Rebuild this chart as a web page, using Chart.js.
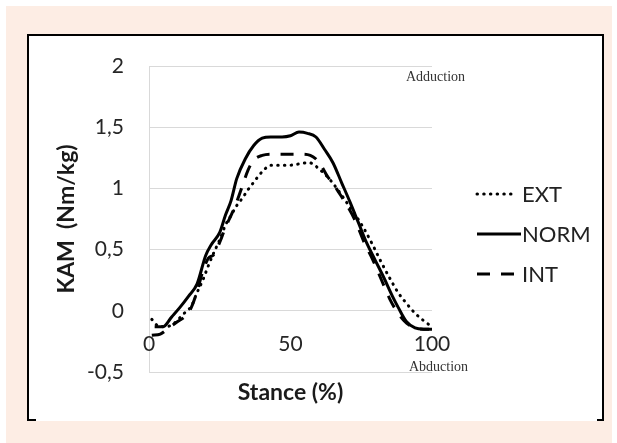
<!DOCTYPE html>
<html>
<head>
<meta charset="utf-8">
<script src="https://cdn.jsdelivr.net/npm/chart.js@4.4.1/dist/chart.umd.min.js"></script>
<style>
  html, body { margin: 0; padding: 0; background: #fff; }
  #page { position: relative; width: 617px; height: 443px; overflow: hidden; }
  #peach { position: absolute; left: 6px; top: 6px; width: 606px; height: 437px; background: #fdede4; }
  #frame { position: absolute; left: 27px; top: 34px; width: 573px; height: 385px; background: #fff;
           border-left: 2px solid #000; border-right: 2px solid #000; border-top: 2px solid #000; }
  .corner { position: absolute; top: 419px; height: 2px; background: #000; }
  #wrap { position: absolute; left: 0; top: 0; width: 617px; height: 443px; }
</style>
</head>
<body>
<div id="page">
  <div id="peach"></div>
  <div id="frame"></div>
  <div class="corner" style="left:27px;width:9px"></div>
  <div class="corner" style="left:597px;width:7px"></div>
  <div id="wrap"><canvas id="chart"></canvas></div>
</div>
<script>
// stance (%) and knee adduction moment (Nm/kg)
const extStance = [1, 3, 6, 9, 12, 15, 17, 19, 21, 23, 25, 27, 29, 31, 33, 35, 37, 39, 41, 43, 47, 50, 53, 56, 58, 60, 62, 64, 67, 70, 73, 76, 79, 82, 85, 88, 91, 94, 97, 100];
const extKam = [-0.07, -0.12, -0.13, -0.1, -0.03, 0.04, 0.15, 0.25, 0.37, 0.48, 0.58, 0.7, 0.78, 0.86, 0.92, 0.99, 1.05, 1.11, 1.16, 1.19, 1.19, 1.19, 1.2, 1.21, 1.2, 1.16, 1.12, 1.07, 0.98, 0.88, 0.78, 0.67, 0.54, 0.4, 0.27, 0.15, 0.06, -0.02, -0.08, -0.13];

const normStance = [2, 5, 8, 11, 14, 17, 20, 22, 25, 27, 29, 31, 34, 37, 40, 43, 47, 50, 53, 56, 59, 62, 65, 68, 71, 74, 77, 80, 83, 86, 88, 91, 94, 97, 100];
const normKam = [-0.13, -0.13, -0.05, 0.03, 0.12, 0.22, 0.45, 0.54, 0.64, 0.78, 0.9, 1.08, 1.24, 1.35, 1.41, 1.42, 1.42, 1.43, 1.46, 1.45, 1.42, 1.32, 1.21, 1.05, 0.89, 0.72, 0.55, 0.41, 0.27, 0.12, 0.03, -0.09, -0.14, -0.15, -0.15];

const intStance = [1, 4, 7, 10, 13, 15, 17, 19, 21, 23, 25, 27, 29, 31, 33, 35, 37, 40, 43, 47, 50, 54, 57, 59, 61, 63, 65, 67, 70, 73, 76, 79, 82, 85, 88, 91, 94, 97, 99];
const intKam = [-0.2, -0.19, -0.14, -0.09, -0.04, 0.03, 0.16, 0.32, 0.43, 0.46, 0.56, 0.68, 0.78, 0.89, 1.02, 1.15, 1.23, 1.27, 1.28, 1.28, 1.28, 1.28, 1.27, 1.24, 1.18, 1.1, 1.04, 0.97, 0.86, 0.73, 0.56, 0.42, 0.26, 0.1, -0.02, -0.1, -0.14, -0.15, -0.15];

const xTicks = [0, 50, 100];
const xTickLabels = ['0', '50', '100'];
const yTickLabels = ['-0,5', '0', '0,5', '1', '1,5', '2'];
const seriesNames = ['EXT', 'NORM', 'INT'];

const sans = 'Lato, "Open Sans", sans-serif';
const toPoints = (xs, ys) => xs.map((x, i) => ({ x: x, y: ys[i] }));

const dashes = [[0.5, 6.2], [], [13, 11]];

function lineSet(label, pts, dash) {
    return {
        label: label,
        data: pts,
        borderColor: '#000',
        borderWidth: 3,
        borderDash: dash,
        borderCapStyle: dash.length && dash[0] < 1 ? 'round' : 'butt',
        pointRadius: 0,
        fill: false,
        cubicInterpolationMode: 'monotone'
    };
}

// x tick labels sit on the zero line, plus the legend and the two notes
const extras = {
    id: 'extras',
    afterDraw(chart) {
        const ctx = chart.ctx;
        const xs = chart.scales.x;
        const ys = chart.scales.y;
        ctx.save();
        ctx.fillStyle = '#262626';
        ctx.font = '21px ' + sans;
        ctx.textAlign = 'center';
        ctx.textBaseline = 'middle';
        const y0 = ys.getPixelForValue(0) + 33;
        xTicks.forEach((v, i) => ctx.fillText(xTickLabels[i], xs.getPixelForValue(v), y0));

        // legend
        const rows = [194, 234, 274];
        chart.data.datasets.forEach((ds, i) => {
            ctx.beginPath();
            ctx.strokeStyle = '#000';
            ctx.lineWidth = 3;
            ctx.setLineDash(ds.borderDash);
            ctx.lineCap = ds.borderCapStyle;
            ctx.moveTo(477, rows[i]);
            ctx.lineTo(i === 1 ? 521 : 515, rows[i]);
            ctx.stroke();
            ctx.setLineDash([]);
            ctx.fillStyle = '#222';
            ctx.font = '22px ' + sans;
            ctx.textAlign = 'left';
            ctx.fillText(seriesNames[i], 522, rows[i] + 1);
        });

        ctx.fillStyle = '#333';
        ctx.font = '14px "Liberation Serif", "Times New Roman", serif';
        ctx.textAlign = 'left';
        ctx.fillText('Adduction', 406, 77);
        ctx.fillText('Abduction', 409, 367);
        ctx.restore();
    }
};

new Chart(document.getElementById('chart'), {
    type: 'line',
    data: {
        datasets: [
            lineSet(seriesNames[0], toPoints(extStance, extKam), dashes[0]),
            lineSet(seriesNames[1], toPoints(normStance, normKam), dashes[1]),
            lineSet(seriesNames[2], toPoints(intStance, intKam), dashes[2])
        ]
    },
    options: {
        responsive: true,
        maintainAspectRatio: false,
        animation: false,
        layout: { padding: { left: 40, right: 185, top: 66, bottom: 0 } },
        plugins: { legend: { display: false }, tooltip: { enabled: false } },
        scales: {
            x: {
                type: 'linear',
                min: 0,
                max: 100,
                grid: { display: false },
                border: { display: false },
                ticks: { display: false },
                title: {
                    display: true,
                    text: 'Stance (%)',
                    color: '#1a1a1a',
                    font: { family: sans, size: 23, weight: 'bold', lineHeight: 1.2 },
                    padding: { top: 0, bottom: 37 }
                },
                afterFit(scale) { scale.height = 71; }
            },
            y: {
                min: -0.5,
                max: 2,
                grid: { color: '#d9d9d9', lineWidth: 1, drawTicks: false },
                border: { display: true, color: '#d9d9d9', width: 1 },
                ticks: {
                    stepSize: 0.5,
                    padding: 25,
                    color: '#262626',
                    font: { family: sans, size: 21 },
                    callback: (v, i) => yTickLabels[i]
                },
                title: {
                    display: true,
                    text: 'KAM  (Nm/kg)',
                    color: '#1a1a1a',
                    font: { family: sans, size: 23, weight: 'bold', lineHeight: 1.2 },
                    padding: { top: 13, bottom: 0 }
                },
                afterFit(scale) { scale.width = 109; }
            }
        }
    },
    plugins: [extras]
});
</script>
</body>
</html>
